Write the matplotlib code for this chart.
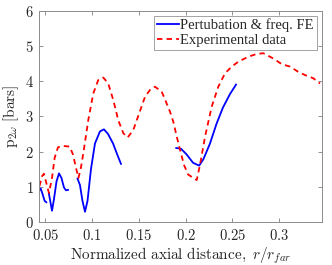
# p_2w along the axis: perturbation / freq. FE model vs. experiment
import matplotlib
matplotlib.use('Agg')
from matplotlib import pyplot as plt

plt.rcParams['mathtext.fontset'] = 'cm'
plt.rcParams['font.family'] = 'serif'
plt.rcParams['font.serif'] = ['DejaVu Serif']

# Perturbation & freq. FE, drawn as separate pieces
fe_x1 = [0.0436, 0.0449, 0.0468, 0.0491, 0.0509]
fe_y1 = [0.90, 0.95, 0.80, 0.60, 0.56]
fe_x2 = [0.0537, 0.0554, 0.0570, 0.0591, 0.0618, 0.0645, 0.0671, 0.0698, 0.0719, 0.0741]
fe_y2 = [0.80, 0.55, 0.32, 0.65, 1.15, 1.38, 1.25, 0.98, 0.90, 0.91]
fe_x3 = [0.0843, 0.0869, 0.0896, 0.0923, 0.0950, 0.0987, 0.1030, 0.1083, 0.1126,
         0.1169, 0.1223, 0.1266, 0.1308]
fe_y3 = [1.23, 1.05, 0.60, 0.29, 0.60, 1.50, 2.23, 2.57, 2.63, 2.50, 2.23, 1.93, 1.65]
fe_x4 = [0.190, 0.195, 0.201, 0.208, 0.2145, 0.219, 0.226, 0.233, 0.240, 0.2475, 0.254]
fe_y4 = [2.10, 2.08, 1.92, 1.68, 1.60, 1.78, 2.22, 2.78, 3.25, 3.63, 3.90]

# Experimental data
exp_x = [0.0436, 0.0463, 0.0484, 0.0505, 0.0537, 0.0570, 0.0598, 0.0634, 0.0687,
         0.0759, 0.0794, 0.0830, 0.0853, 0.0880, 0.0905, 0.0958, 0.1012, 0.1065,
         0.1119, 0.1172, 0.1226, 0.1279, 0.1333, 0.1380, 0.1440, 0.1512, 0.1565,
         0.1619, 0.1672, 0.1744, 0.1790, 0.1833, 0.1868, 0.1903, 0.1940, 0.1983,
         0.2026, 0.2082, 0.2119, 0.2154, 0.2208, 0.2279, 0.2350, 0.2422, 0.2494,
         0.2564, 0.2671, 0.2761, 0.2832, 0.2939, 0.3029, 0.3118, 0.3207, 0.3278,
         0.3367, 0.3439]
exp_y = [1.02, 1.30, 1.37, 1.15, 0.82, 1.25, 1.82, 2.12, 2.16,
         2.14, 1.92, 1.50, 1.25, 1.55, 1.95, 2.89, 3.65, 4.03,
         4.10, 3.93, 3.46, 2.89, 2.52, 2.40, 2.61, 3.15, 3.55,
         3.75, 3.84, 3.70, 3.41, 3.13, 2.85, 2.45, 2.05, 1.62,
         1.35, 1.25, 1.19, 1.62, 2.42, 3.27, 3.84, 4.22, 4.41,
         4.55, 4.69, 4.77, 4.79, 4.64, 4.48, 4.41, 4.26, 4.17,
         4.08, 3.93]

x_ticks = [0.05, 0.1, 0.15, 0.2, 0.25, 0.3]
x_ticklabels = ['0.05', '0.1', '0.15', '0.2', '0.25', '0.3']
y_ticks = [0, 1, 2, 3, 4, 5, 6]
y_ticklabels = ['0', '1', '2', '3', '4', '5', '6']

fig = plt.figure(figsize=(3.32, 2.65), dpi=100)
ax = fig.add_axes([0.1184, 0.1623, 0.8506, 0.7977])

fe_pieces = [(fe_x1, fe_y1), (fe_x2, fe_y2), (fe_x3, fe_y3), (fe_x4, fe_y4)]
for i, (xs, ys) in enumerate(fe_pieces):
    ax.plot(xs, ys, color='#0000ff', lw=1.3,
            label='Pertubation & freq. FE' if i == 0 else None)
ax.plot(exp_x, exp_y, color='#ff0000', lw=1.3, linestyle=(0, (3.0, 2.3)),
        label='Experimental data')

ax.set_xlim(0.0434, 0.3457)
ax.set_ylim(0, 6)
ax.set_xticks(x_ticks)
ax.set_xticklabels(['$' + t + '$' for t in x_ticklabels])
ax.set_yticks(y_ticks)
ax.set_yticklabels(['$' + t + '$' for t in y_ticklabels])

ax.tick_params(direction='in', length=3, width=0.6, color='#808080',
               top=True, right=True, labelsize=10.5, labelcolor='#262626', pad=4)
for sp in ax.spines.values():
    sp.set_color('#8c8c8c')
    sp.set_linewidth(0.7)

ax.set_xlabel(r'$\mathrm{Normalized\ axial\ distance,}\ r/r_{far}$',
              fontsize=11, color='#262626', labelpad=2)
ax.set_ylabel(r'$\mathrm{p}_{2\omega}\ \mathrm{[bars]}$',
              fontsize=11, color='#262626', labelpad=3)

leg = ax.legend(loc='upper right', prop={'family': 'Liberation Serif', 'size': 10.5},
                frameon=True, fancybox=False, borderpad=0.2, borderaxespad=0.35,
                handlelength=1.5, handletextpad=0.1, labelspacing=0.1)
leg.get_frame().set_edgecolor('#8c8c8c')
leg.get_frame().set_linewidth(0.7)
for t in leg.get_texts():
    t.set_color('#262626')

fig.savefig('out.png', dpi=100)
